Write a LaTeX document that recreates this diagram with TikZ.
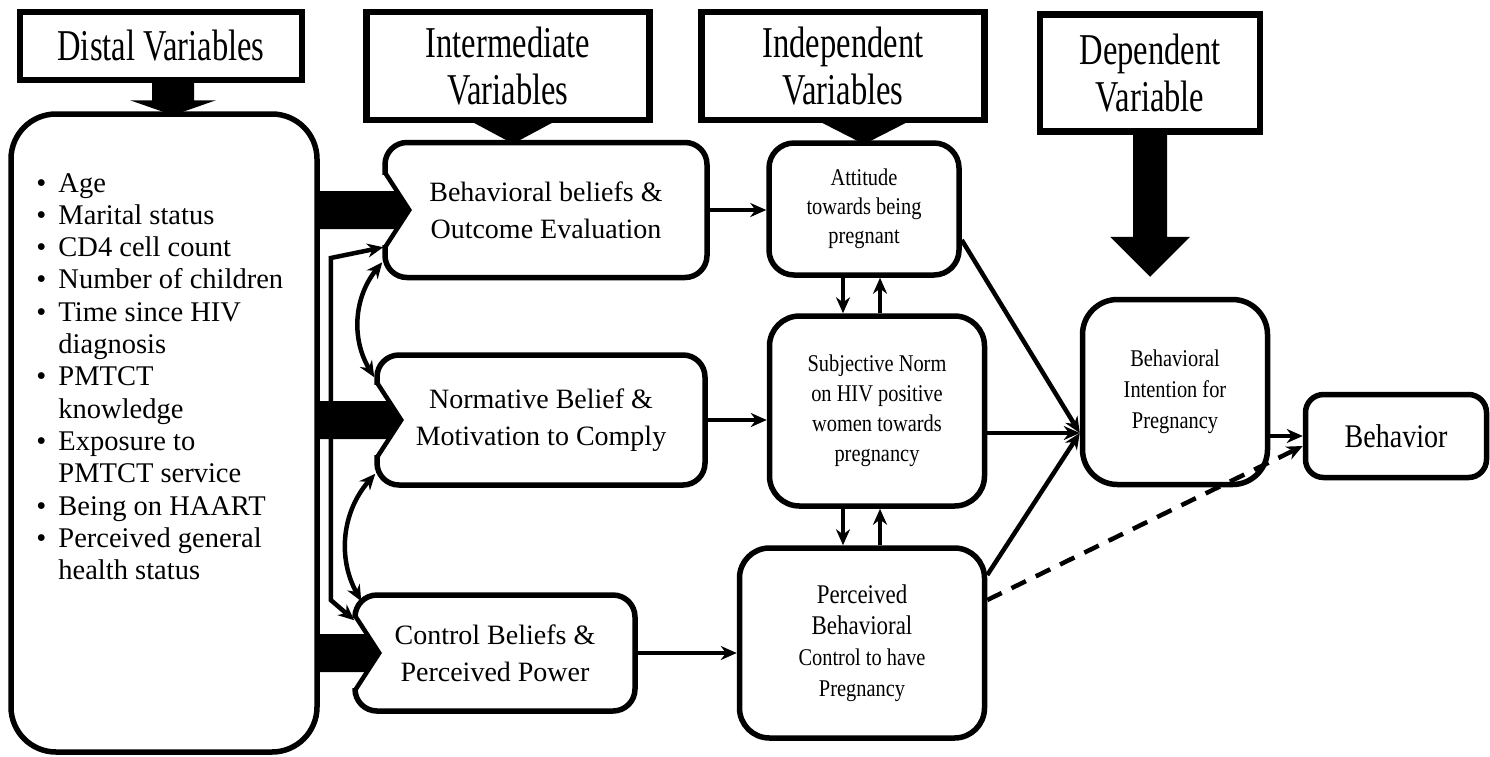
\documentclass[tikz,border=0pt]{standalone}
\usepackage{fontspec}
\setmainfont{Liberation Serif}
\newfontfamily\tallfont[FakeStretch=0.74]{Liberation Serif}
\newfontfamily\slimfont[FakeStretch=0.85]{Liberation Serif}
\usetikzlibrary{arrows.meta,calc,positioning}

% thick block arrow from the distal box into one of the belief boxes
\newcommand{\sidearrow}[1]{%
  \fill[white] ($(#1.west)+(-1,-35)$) rectangle ($(#1.west)+(8,35)$);
  \draw[line width=4.5pt] ($(#1.west)+(3,-37)$) -- ($(#1.west)+(27,0)$) -- ($(#1.west)+(3,37)$);
  \fill ($(dist.east |- #1.west)+(-2,-19)$) -- ($(#1.west)+(14,-19)$) -- ($(#1.west)+(27,0)$)
    -- ($(#1.west)+(14,19)$) -- ($(dist.east |- #1.west)+(-2,19)$) -- cycle;}

\begin{document}
\begin{tikzpicture}[x=1pt,y=-1pt,
    headbox/.style={draw,line width=6.5pt,inner sep=0pt,align=center,
      font=\tallfont\fontsize{44}{47}\selectfont},
    varbox/.style={draw,line width=5.5pt,fill=white,inner sep=0pt,align=center,rounded corners=#1},
    varbox/.default=22pt,
    conn/.style={line width=4.5pt,-{Stealth[length=16pt,width=14pt]}},
    both/.style={line width=4.5pt,{Stealth[length=16pt,width=14pt]}-{Stealth[length=16pt,width=14pt]}}]
    \useasboundingbox (0,0) rectangle (1490,756);

    % column headings
    \node[headbox,minimum width=282pt,minimum height=68pt] (hdist) at (161,46) {Distal Variables};
    \node[headbox,minimum width=283pt,minimum height=108pt] (hinter) at (508,66) {Intermediate\\Variables};
    \node[headbox,minimum width=283pt,minimum height=108pt] (hindep) at (843,66) {Independent\\Variables};
    \node[headbox,minimum width=220pt,minimum height=117pt] (hdep) at (1150,73) {Dependent\\Variable};

    % boxes
    \node[varbox=45pt,minimum width=306pt,minimum height=638pt] (dist) at (164,433) {};
    \node[anchor=north west,inner sep=0pt,font=\fontsize{28.5}{32.3}\selectfont] (distlist) at ($(dist.north west)+(28,58)$) {%
      \begin{tabular}{@{}l@{\hspace{12pt}}l@{}}
        \textbullet & Age\\
        \textbullet & Marital status\\
        \textbullet & CD4 cell count\\
        \textbullet & Number of children\\
        \textbullet & Time since HIV\\
                    & diagnosis\\
        \textbullet & PMTCT\\
                    & knowledge\\
        \textbullet & Exposure to\\
                    & PMTCT service\\
        \textbullet & Being on HAART\\
        \textbullet & Perceived general\\
                    & health status
      \end{tabular}};
    \node[varbox,minimum width=322pt,minimum height=135pt,font=\fontsize{28}{37}\selectfont] (behbel) at (546,210) {Behavioral beliefs \&\\Outcome Evaluation};
    \node[varbox,minimum width=328pt,minimum height=130pt,font=\fontsize{28}{37}\selectfont] (normbel) at (541,420) {Normative Belief \&\\Motivation to Comply};
    \node[varbox,minimum width=280pt,minimum height=116pt,font=\fontsize{28}{37}\selectfont] (ctrlbel) at (495,653) {Control Beliefs \&\\Perceived Power};
    \node[varbox=25pt,minimum width=190pt,minimum height=132pt,font=\slimfont\fontsize{24}{29}\selectfont] (att) at (864,209) {Attitude\\towards being\\pregnant};
    \node[varbox=30pt,minimum width=215pt,minimum height=190pt,font=\slimfont\fontsize{24}{30}\selectfont] (subj) at (877,411) {Subjective Norm\\on HIV positive\\women towards\\pregnancy};
    \node[varbox=30pt,minimum width=245pt,minimum height=190pt,font=\slimfont\fontsize{24}{31}\selectfont] (pbc) at (862,643)
      {\fontsize{27}{31}\selectfont Perceived\\\fontsize{27}{31}\selectfont Behavioral\\\fontsize{24}{31}\selectfont Control to have\\\fontsize{24}{31}\selectfont Pregnancy};
    \node[varbox=35pt,minimum width=185pt,minimum height=185pt,font=\slimfont\fontsize{24}{31}\selectfont] (intent) at (1175,392) {Behavioral\\Intention for\\Pregnancy};
    \node[varbox=18pt,minimum width=181pt,minimum height=83pt,font=\slimfont\fontsize{33}{36}\selectfont] (behav) at (1396,436) {Behavior};

    % heading arrows
    \fill ($(hdist.south)+(-9,-2)$) -- ($(hdist.south)+(33,-2)$) -- ($(hdist.south)+(33,17)$) -- ($(hdist.south)+(55,17)$)
      -- ($(hdist.south |- dist.north)+(12,4)$) -- ($(hdist.south)+(-31,17)$) -- ($(hdist.south)+(-9,17)$) -- cycle;
    \fill ($(hinter.south)+(-37,-2)$) -- ($(hinter.south)+(47,-2)$) -- ($(hinter.south |- behbel.north)+(5,4)$) -- cycle;
    \fill ($(hindep.south)+(-24,-2)$) -- ($(hindep.south)+(66,-2)$) -- ($(hindep.south |- att.north)+(21,4)$) -- cycle;
    \fill ($(hdep.south)+(-17,-2)$) -- ($(hdep.south)+(17,-2)$) -- ($(hdep.south)+(17,102)$) -- ($(hdep.south)+(40,102)$)
      -- ($(hdep.south)+(0,142)$) -- ($(hdep.south)+(-40,102)$) -- ($(hdep.south)+(-17,102)$) -- cycle;

    % block arrows out of the distal box
    \sidearrow{behbel}
    \sidearrow{normbel}
    \sidearrow{ctrlbel}

    % links between the belief boxes
    \coordinate (brtop) at ($(dist.east)+(11,-175)$);
    \coordinate (brbot) at ($(dist.east)+(11,167)$);
    \draw[both,line join=miter] ($(behbel.south west)+(1,-33)$) -- (brtop) -- (brbot) -- ($(ctrlbel.north west)+(2,28)$);
    \draw[both] ($(behbel.south west)+(0,-18)$) to[bend right=35] ($(normbel.north west)+(0,25)$);
    \draw[both] ($(normbel.south west)+(1,-14)$) to[bend right=35] ($(ctrlbel.north west)+(9,9)$);

    \draw[conn] (behbel.east) -- (behbel.east -| att.west);
    \draw[conn] (normbel.east) -- (normbel.east -| subj.west);
    \draw[conn] (ctrlbel.east) -- (ctrlbel.east -| pbc.west);

    % up and down arrows in the independent column
    \coordinate (dn) at ($(subj.north)+(-34,0)$);
    \coordinate (up) at ($(subj.north)+(3,0)$);
    \draw[conn] (dn |- att.south) -- (dn);
    \draw[conn] (up) -- (up |- att.south);
    \draw[conn] (dn |- subj.south) -- (dn |- pbc.north);
    \draw[conn] (up |- pbc.north) -- (up |- subj.south);

    % into intention and behavior
    \coordinate (meet) at ($(intent.west)+(0,41)$);
    \draw[conn] ($(att.east)+(0,31)$) -- (meet);
    \draw[conn] (subj.east |- meet) -- (meet);
    \draw[conn] ($(pbc.east)+(0,-68)$) -- (meet);
    \draw[conn] (intent.east |- behav.west) -- (behav.west);
    \draw[conn,dash pattern=on 16pt off 11pt] ($(pbc.east)+(0,-43)$) -- ($(behav.west)+(0,10)$);
\end{tikzpicture}
\end{document}
